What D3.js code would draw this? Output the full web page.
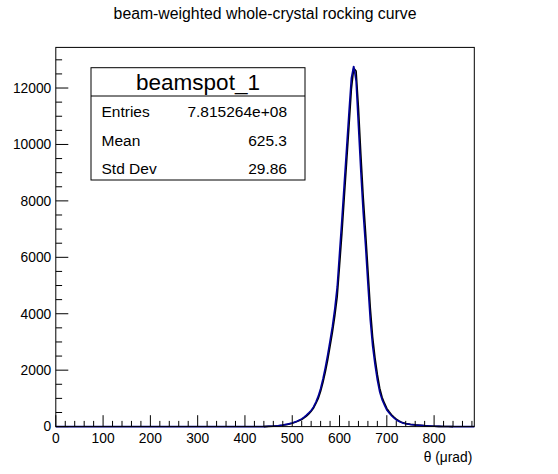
<!DOCTYPE html>
<html>
<head>
<meta charset="utf-8">
<script src="https://cdn.jsdelivr.net/npm/d3@7"></script>
<style>
  html, body { margin: 0; padding: 0; background: #fff; }
  svg { display: block; font-family: "Liberation Sans", Arial, Helvetica, sans-serif; }
</style>
</head>
<body>
<svg id="chart" width="558" height="474"></svg>
<script>
// ---- data ----
const chartTitle = "beam-weighted whole-crystal rocking curve";
const xTitle = "\u03b8 (\u03bcrad)";
const statsName = "beamspot_1";
const statsLabels = ["Entries", "Mean", "Std Dev"];
const statsValues = ["7.815264e+08", "625.3", "29.86"];
const xDomain = [0, 885];
const yDomain = [0, 13440];
const xTickValues = [0, 100, 200, 300, 400, 500, 600, 700, 800];
const yTickValues = [0, 2000, 4000, 6000, 8000, 10000, 12000];

// bin centres (µrad)
const theta = [0, 440, 450, 460, 470, 480, 490, 500, 510, 520, 525, 530, 535, 540, 545, 550, 555, 560,
  565, 570, 575, 580, 585, 590, 595, 600, 605, 610, 615, 620, 625, 630, 635, 640, 645, 650,
  655, 660, 665, 670, 675, 680, 685, 690, 695, 700, 705, 710, 715, 720, 725, 730, 735, 740,
  750, 760, 770, 780, 790, 800, 810, 820, 830, 840, 885];
// blue histogram counts
const countsBlue = [0, 0, 10, 18, 32, 55, 88, 130, 190, 275, 335, 405, 485, 570, 700, 870, 1080, 1350,
  1700, 2100, 2550, 3050, 3560, 4180, 4950, 6150, 7350, 8620, 9880, 11150, 12350, 12780, 12250, 10650, 9050, 7600,
  6400, 5050, 3780, 2850, 2200, 1650, 1220, 950, 760, 590, 480, 385, 305, 240, 190, 150, 122, 100,
  75, 58, 45, 30, 20, 12, 7, 3, 1, 0, 0];
// black histogram counts
const countsBlack = [0, 0, 8, 15, 28, 50, 80, 120, 178, 252, 308, 375, 453, 540, 660, 820, 1000, 1250,
  1570, 1940, 2370, 2850, 3350, 3920, 4600, 5700, 6850, 8120, 9380, 10650, 11950, 12700, 12600, 11300, 9670, 8160,
  6900, 5570, 4220, 3170, 2440, 1850, 1360, 1040, 830, 646, 525, 420, 335, 262, 207, 163, 132, 108,
  80, 62, 48, 33, 22, 14, 8, 4, 2, 0, 0];

// ---- layout ----
const W = 558, H = 474;
const m = { left: 55.8, right: W * 0.15, top: 47.4, bottom: H * 0.1 };
const fx0 = m.left, fx1 = W - m.right, fy0 = m.top, fy1 = H - m.bottom;

const svg = d3.select("#chart");
const x = d3.scaleLinear().domain(xDomain).range([fx0, fx1]);
const y = d3.scaleLinear().domain(yDomain).range([fy1, fy0]);

// curves
const line = d3.line().x(d => x(d[0])).y(d => y(d[1])).curve(d3.curveLinear);
const blackPts = theta.map((t, i) => [t, countsBlack[i]]).filter(d => d[0] >= 440 && d[0] <= 840);
const bluePts = theta.map((t, i) => [t, countsBlue[i]]);

svg.append("path").attr("d", line(blackPts)).attr("fill", "none")
  .attr("stroke", "#000000").attr("stroke-width", 1.6);
svg.append("path").attr("d", line(bluePts)).attr("fill", "none")
  .attr("stroke", "#000099").attr("stroke-width", 1.6);

// frame
svg.append("rect").attr("x", fx0).attr("y", fy0).attr("width", fx1 - fx0).attr("height", fy1 - fy0)
  .attr("fill", "none").attr("stroke", "#000").attr("stroke-width", 1);

// x axis
const xMinor = d3.range(0, 885, 20);
const xg = svg.append("g").attr("transform", `translate(0,${fy1})`);
xg.selectAll("line.minor").data(xMinor).enter().append("line")
  .attr("x1", d => x(d)).attr("x2", d => x(d)).attr("y1", 0)
  .attr("y2", d => (d % 100 === 0 ? -11.4 : -5.7))
  .attr("stroke", "#000").attr("stroke-width", 1);
xg.selectAll("text").data(xTickValues).enter().append("text")
  .attr("x", d => x(d)).attr("y", 16.5).attr("text-anchor", "middle")
  .attr("font-size", 13.8).attr("fill", "#000").text(d => d);

// y axis
const yMinor = d3.range(0, 13440, 500);
const yg = svg.append("g").attr("transform", `translate(${fx0},0)`);
yg.selectAll("line").data(yMinor).enter().append("line")
  .attr("y1", d => y(d)).attr("y2", d => y(d)).attr("x1", 0)
  .attr("x2", d => (d % 2000 === 0 ? 12.5 : 6.3))
  .attr("stroke", "#000").attr("stroke-width", 1);
yg.selectAll("text").data(yTickValues).enter().append("text")
  .attr("x", -4.5).attr("y", d => y(d) + 4.8).attr("text-anchor", "end")
  .attr("font-size", 13.8).attr("fill", "#000").text(d => d);

// x title
svg.append("text").attr("x", fx1 - 2).attr("y", 461.5).attr("text-anchor", "end")
  .attr("font-size", 13.8).attr("fill", "#000").text(xTitle);

// title
svg.append("text").attr("x", (fx0 + fx1) / 2).attr("y", 19).attr("text-anchor", "middle")
  .attr("font-size", 15.8).attr("fill", "#000").text(chartTitle);

// stats box
const bx0 = 91, bx1 = 305, by0 = 67.7, by1 = 180, bsep = 96;
const sb = svg.append("g");
sb.append("rect").attr("x", bx0).attr("y", by0).attr("width", bx1 - bx0).attr("height", by1 - by0)
  .attr("fill", "#fff").attr("stroke", "#000").attr("stroke-width", 1);
sb.append("line").attr("x1", bx0).attr("x2", bx1).attr("y1", bsep).attr("y2", bsep)
  .attr("stroke", "#000").attr("stroke-width", 1);
sb.append("text").attr("x", (bx0 + bx1) / 2).attr("y", 89.5).attr("text-anchor", "middle")
  .attr("font-size", 22.5).attr("fill", "#000").text(statsName);
const rowY = [117.3, 145.7, 174];
statsLabels.forEach((lab, i) => {
  sb.append("text").attr("x", 101.5).attr("y", rowY[i]).attr("font-size", 15.5).attr("fill", "#000").text(lab);
  sb.append("text").attr("x", 287).attr("y", rowY[i]).attr("text-anchor", "end")
    .attr("font-size", 15.5).attr("fill", "#000").text(statsValues[i]);
});
</script>
</body>
</html>
